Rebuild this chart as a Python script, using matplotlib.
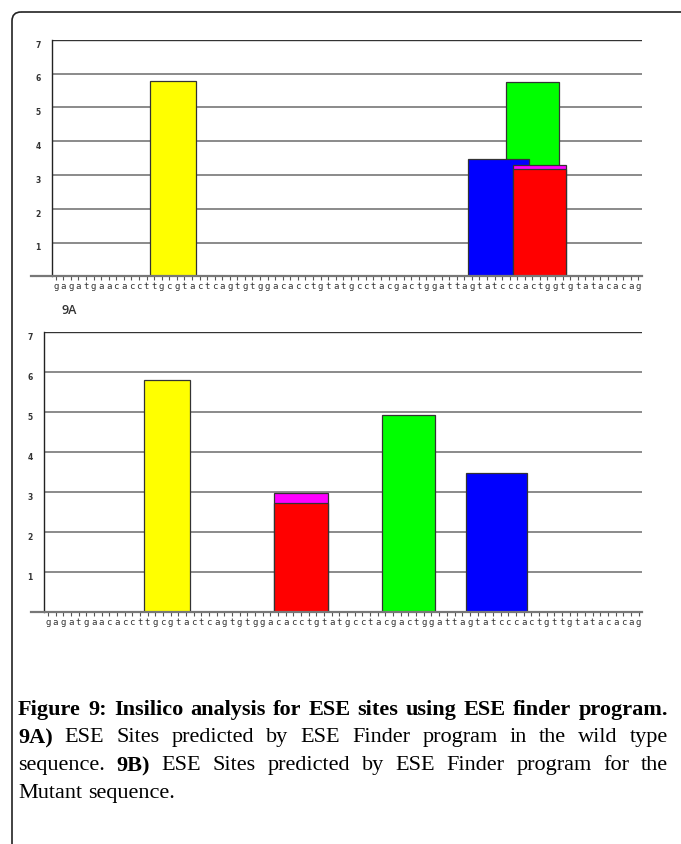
import matplotlib
matplotlib.use("Agg")
import matplotlib.pyplot as plt
from matplotlib.patches import FancyBboxPatch

W, H = 681, 845

# ---------------- data ----------------
seq_wild = list("gagatgaacaccttgcgtactcagtgtggacacctgtatgcctacgactggattagtatcccactggtgtatacacag")
seq_mut = list("gagatgaacaccttgcgtactcagtgtggacacctgtatgcctacgactggattagtatcccactgttgtatacacag")
y_ticks = [1, 2, 3, 4, 5, 6, 7]

# panel 9A (wild type): drawing order yellow, green, blue, magenta, red
a_colors = ["#FFFF00", "#00FF00", "#0000FF", "#FF00FF", "#FF0000"]
a_start = [13, 60, 55, 61, 61]
a_end = [19, 67, 63, 68, 68]
a_score = [5.79, 5.74, 3.47, 3.30, 3.17]

# panel 9B (mutant)
b_colors = ["#FFFF00", "#FF00FF", "#FF0000", "#00FF00", "#0000FF"]
b_start = [13, 30, 30, 44, 55]
b_end = [19, 37, 37, 51, 63]
b_score = [5.79, 2.975, 2.73, 4.91, 3.47]

caption_lines = [
    [("Figure", True), ("9:", True), ("Insilico", True), ("analysis", True), ("for", True),
     ("ESE", True), ("sites", True), ("using", True), ("ESE", True), ("finder", True), ("program.", True)],
    [("9A)", True), ("ESE", False), ("Sites", False), ("predicted", False), ("by", False), ("ESE", False),
     ("Finder", False), ("program", False), ("in", False), ("the", False), ("wild", False), ("type", False)],
    [("sequence.", False), ("9B)", True), ("ESE", False), ("Sites", False), ("predicted", False), ("by", False),
     ("ESE", False), ("Finder", False), ("program", False), ("for", False), ("the", False)],
    [("Mutant", False), ("sequence.", False)],
]

fig = plt.figure(figsize=(W / 100, H / 100), dpi=100)
fig.patch.set_facecolor("white")

# frame
bg = fig.add_axes([0, 0, 1, 1])
bg.set_xlim(0, W)
bg.set_ylim(H, 0)
bg.axis("off")
bg.add_patch(FancyBboxPatch((12, 13), 720, 900, boxstyle="round,pad=0,rounding_size=9",
                            fc="none", ec="#222222", lw=1.2))


def panel(left, right, top, bottom, seq, starts, ends, scores, colors, axis_left):
    ax = fig.add_axes([left / W, 1 - bottom / H, (right - left) / W, (bottom - top) / H])
    n = len(seq)
    ax.set_xlim(0, n)
    ax.set_ylim(0, 7)
    for y in y_ticks[:-1]:
        ax.axhline(y, color="#8a8a8a", lw=1.4, zorder=0)
    ax.axhline(7, color="#333333", lw=1.0, zorder=0)
    for s, e, v, c in zip(starts, ends, scores, colors):
        ax.bar(s, v, width=e - s, align="edge", color=c, edgecolor="#333333", lw=0.9, zorder=2)
    for sp in ["top", "right", "bottom"]:
        ax.spines[sp].set_visible(False)
    ax.spines["left"].set_color("#222222")
    ax.spines["left"].set_linewidth(1.0)
    ax.axhline(0, xmin=-(left - axis_left) / (right - left), xmax=1, color="#777777",
               lw=1.6, clip_on=False, zorder=3)
    ax.set_yticks(y_ticks)
    ax.set_yticklabels([str(t) for t in y_ticks], fontsize=5.5, fontweight="bold",
                       color="#333333", family="DejaVu Sans", va="top")
    ax.tick_params(axis="y", length=0, pad=8)
    ax.set_xticks([i + 0.5 for i in range(n)])
    ax.set_xticklabels(seq, fontsize=6.5, family="DejaVu Sans Mono", color="#333333")
    ax.tick_params(axis="x", length=3, width=0.8, color="#555555", pad=0.5)
    return ax


panel(52, 642, 40.7, 277.3, seq_wild, a_start, a_end, a_score, a_colors, 31)
panel(44, 642.5, 332.7, 613.3, seq_mut, b_start, b_end, b_score, b_colors, 31)

bg.text(62, 311, "9A", fontsize=9, family="Open Sans", fontweight="semibold",
        color="#333333", va="center", ha="left")

# caption with justified lines
fig.canvas.draw()
renderer = fig.canvas.get_renderer()
x0, x1 = 18, 668
ys = [710, 738, 766, 794]
fs = 16
for li, (words, y) in enumerate(zip(caption_lines, ys)):
    texts = []
    widths = []
    for w, b in words:
        t = bg.text(0, y, w, fontsize=fs, family="Liberation Serif",
                    fontweight="bold" if b else "normal", color="black",
                    va="center", ha="left")
        texts.append(t)
        widths.append(t.get_window_extent(renderer).width)
    if li < len(caption_lines) - 1 and len(words) > 1:
        gap = (x1 - x0 - sum(widths)) / (len(words) - 1)
    else:
        gap = fs * 0.25 * 100 / 72
    x = x0
    for t, wdt in zip(texts, widths):
        t.set_x(x)
        x += wdt + gap

fig.savefig("out.png", dpi=100)
